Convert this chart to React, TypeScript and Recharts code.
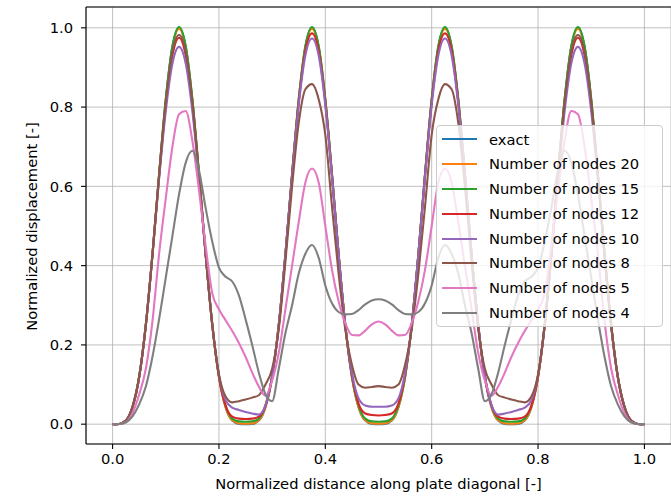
import React from 'react';
import { LineChart, Line, XAxis, YAxis, CartesianGrid } from 'recharts';

const T = [
  0, 0.0125, 0.025, 0.0375, 0.05, 0.0625, 0.075, 0.0875, 0.1, 0.1125,
  0.125, 0.1375, 0.15, 0.1625, 0.175, 0.1875, 0.2, 0.2125, 0.225, 0.2375,
  0.25, 0.2625, 0.275, 0.2875, 0.3, 0.3125, 0.325, 0.3375, 0.35, 0.3625,
  0.375, 0.3875, 0.4, 0.4125, 0.425, 0.4375, 0.45, 0.4625, 0.475, 0.4875,
  0.5, 0.5125, 0.525, 0.5375, 0.55, 0.5625, 0.575, 0.5875, 0.6, 0.6125,
  0.625, 0.6375, 0.65, 0.6625, 0.675, 0.6875, 0.7, 0.7125, 0.725, 0.7375,
  0.75, 0.7625, 0.775, 0.7875, 0.8, 0.8125, 0.825, 0.8375, 0.85, 0.8625,
  0.875, 0.8875, 0.9, 0.9125, 0.925, 0.9375, 0.95, 0.9625, 0.975, 0.9875, 1,
];

const EXACT = [
  0, .0006, .009, .043, .119, .25, .428, .63, .818, .952, 1, .952, .818, .63, .428, .25, .119, .043, .009, .0006, 0,
  .0006, .009, .043, .119, .25, .428, .63, .818, .952, 1, .952, .818, .63, .428, .25, .119, .043, .009, .0006, 0,
  .0006, .009, .043, .119, .25, .428, .63, .818, .952, 1, .952, .818, .63, .428, .25, .119, .043, .009, .0006, 0,
  .0006, .009, .043, .119, .25, .428, .63, .818, .952, 1, .952, .818, .63, .428, .25, .119, .043, .009, .0006, 0,
];

const N20 = [
  0, .0006, .009, .043, .119, .25, .428, .63, .817, .95, .997, .95, .817, .63, .428, .25, .119, .043, .01, .002, .001,
  .002, .01, .043, .119, .25, .428, .63, .817, .95, .997, .95, .817, .63, .428, .25, .119, .043, .01, .002, .001,
  .002, .01, .043, .119, .25, .428, .63, .817, .95, .997, .95, .817, .63, .428, .25, .119, .043, .01, .002, .001,
  .002, .01, .043, .119, .25, .428, .63, .817, .95, .997, .95, .817, .63, .428, .25, .119, .043, .009, .0006, 0,
];

const N15 = [
  0, .0006, .009, .045, .121, .252, .43, .632, .82, .954, 1.002, .954, .82, .632, .43, .252, .122, .047, .014, .007, .006,
  .007, .014, .047, .122, .252, .43, .632, .82, .954, 1.002, .954, .82, .632, .43, .252, .122, .047, .014, .007, .006,
  .007, .014, .047, .122, .252, .43, .632, .82, .954, 1.002, .954, .82, .632, .43, .252, .122, .047, .014, .007, .006,
  .007, .014, .047, .122, .252, .43, .632, .82, .954, 1.002, .954, .82, .632, .43, .252, .121, .045, .009, .0006, 0,
];

const N12 = [
  0, .0006, .009, .043, .119, .25, .428, .625, .805, .93, .975, .93, .805, .625, .428, .25, .12, .047, .019, .014, .013,
  .014, .019, .047, .12, .25, .428, .628, .812, .942, .986, .942, .812, .628, .428, .25, .125, .052, .027, .023, .022,
  .023, .027, .052, .125, .25, .428, .628, .812, .942, .986, .942, .812, .628, .428, .25, .12, .047, .019, .014, .013,
  .014, .019, .047, .12, .25, .428, .625, .805, .93, .975, .93, .805, .625, .428, .25, .119, .043, .009, .0006, 0,
];

const N10 = [
  0, .0006, .009, .043, .119, .25, .428, .62, .79, .91, .952, .91, .79, .62, .428, .25, .125, .06, .042, .036, .031,
  .027, .024, .048, .122, .25, .428, .625, .805, .93, .973, .93, .805, .625, .428, .25, .13, .065, .047, .044, .044,
  .044, .047, .065, .13, .25, .428, .625, .805, .93, .973, .93, .805, .625, .428, .25, .122, .048, .024, .027, .031,
  .036, .042, .06, .125, .25, .428, .62, .79, .91, .952, .91, .79, .62, .428, .25, .119, .043, .009, .0006, 0,
];

const N8 = [
  0, .0006, .009, .043, .119, .25, .428, .628, .812, .94, .982, .94, .812, .628, .428, .25, .125, .07, .055, .058, .062,
  .067, .073, .10, .14, .24, .41, .60, .76, .845, .858, .82, .73, .55, .38, .24, .15, .10, .092, .094, .096,
  .094, .092, .10, .15, .24, .38, .55, .73, .82, .858, .845, .76, .60, .41, .24, .14, .10, .073, .067, .062,
  .058, .055, .07, .125, .25, .428, .628, .812, .94, .982, .94, .812, .628, .428, .25, .119, .043, .009, .0006, 0,
];

const N5 = [
  0, .0005, .005, .028, .075, .14, .26, .43, .57, .70, .782, .79, .715, .59, .45, .33, .29, .262, .235, .205, .17,
  .13, .095, .072, .11, .18, .29, .40, .51, .61, .645, .61, .50, .39, .31, .255, .225, .224, .236, .252, .259,
  .252, .236, .224, .225, .255, .31, .39, .50, .61, .645, .61, .51, .40, .29, .18, .11, .072, .095, .13, .17,
  .205, .235, .262, .29, .33, .45, .59, .715, .79, .782, .70, .57, .43, .26, .14, .075, .028, .005, .0005, 0,
];

const N4 = [
  0, .0005, .005, .02, .05, .095, .17, .265, .37, .475, .58, .66, .69, .64, .545, .46, .395, .372, .36, .325, .265,
  .20, .13, .075, .058, .14, .23, .30, .38, .43, .452, .42, .35, .305, .283, .277, .278, .288, .302, .312, .315,
  .312, .302, .288, .278, .277, .283, .305, .35, .42, .452, .43, .38, .30, .23, .14, .058, .075, .13, .20, .265,
  .325, .36, .372, .395, .46, .545, .64, .69, .66, .58, .475, .37, .265, .17, .095, .05, .02, .005, .0005, 0,
];

const X_TICKS = [0, 0.2, 0.4, 0.6, 0.8, 1.0];
const Y_TICKS = [0, 0.2, 0.4, 0.6, 0.8, 1.0];

const SERIES = [
  { key: 'exact', name: 'exact', color: '#1f77b4', values: EXACT },
  { key: 'n20', name: 'Number of nodes 20', color: '#ff7f0e', values: N20 },
  { key: 'n15', name: 'Number of nodes 15', color: '#2ca02c', values: N15 },
  { key: 'n12', name: 'Number of nodes 12', color: '#d62728', values: N12 },
  { key: 'n10', name: 'Number of nodes 10', color: '#9467bd', values: N10 },
  { key: 'n8', name: 'Number of nodes 8', color: '#8c564b', values: N8 },
  { key: 'n5', name: 'Number of nodes 5', color: '#e377c2', values: N5 },
  { key: 'n4', name: 'Number of nodes 4', color: '#7f7f7f', values: N4 },
];

const FONT = '"DejaVu Sans", sans-serif';
const FS = 14.7;

export default function App() {
  const data = T.map((t, i) => {
    const row: any = { t };
    SERIES.forEach((s) => {
      row[s.key] = s.values[i];
    });
    return row;
  });

  const tickStyle = { fill: '#000', fontSize: FS, fontFamily: FONT };

  return (
    <div
      style={{
        position: 'absolute',
        left: 0,
        top: 0,
        width: 671,
        height: 501,
        background: '#fff',
        fontFamily: FONT,
        overflow: 'hidden',
      }}
    >
      <LineChart width={671} height={501} data={data} margin={{ top: 0, right: 0, bottom: 0, left: 0 }}>
        <CartesianGrid stroke="#b0b0b0" strokeWidth={0.8} />
        <XAxis
          xAxisId="top"
          orientation="top"
          type="number"
          dataKey="t"
          domain={[-0.05, 1.05]}
          height={7}
          tick={false}
          tickLine={false}
          axisLine={{ stroke: '#000', strokeWidth: 1.1 }}
          allowDataOverflow
        />
        <XAxis
          type="number"
          dataKey="t"
          domain={[-0.05, 1.05]}
          ticks={X_TICKS}
          tickFormatter={(v: number) => v.toFixed(1)}
          height={57}
          tick={tickStyle}
          tickSize={5}
          tickMargin={5}
          tickLine={{ stroke: '#000', strokeWidth: 1.1 }}
          axisLine={{ stroke: '#000', strokeWidth: 1.1 }}
          allowDataOverflow
          interval={0}
        />
        <YAxis
          type="number"
          domain={[-0.05, 1.0525]}
          ticks={Y_TICKS}
          tickFormatter={(v: number) => v.toFixed(1)}
          width={86}
          tick={tickStyle}
          tickSize={5}
          tickMargin={8}
          tickLine={{ stroke: '#000', strokeWidth: 1.1 }}
          axisLine={{ stroke: '#000', strokeWidth: 1.1 }}
          allowDataOverflow
          interval={0}
        />
        {SERIES.map((s) => (
          <Line
            key={s.key}
            dataKey={s.key}
            name={s.name}
            type="monotone"
            stroke={s.color}
            strokeWidth={2.1}
            dot={false}
            activeDot={false}
            isAnimationActive={false}
          />
        ))}
      </LineChart>

      <div
        style={{
          position: 'absolute',
          left: 86,
          width: 585,
          top: 475,
          textAlign: 'center',
          fontSize: FS,
          lineHeight: '17px',
          color: '#000',
          whiteSpace: 'nowrap',
        }}
      >
        Normalized distance along plate diagonal [-]
      </div>

      <div
        style={{
          position: 'absolute',
          left: 31 - 200,
          top: 226 - 8.5,
          width: 400,
          height: 17,
          textAlign: 'center',
          fontSize: FS,
          lineHeight: '17px',
          color: '#000',
          whiteSpace: 'nowrap',
          transform: 'rotate(-90deg)',
        }}
      >
        Normalized displacement [-]
      </div>

      <div
        style={{
          position: 'absolute',
          left: 436,
          top: 125,
          width: 227,
          height: 202,
          boxSizing: 'border-box',
          border: '1px solid #cccccc',
          borderRadius: 4,
          background: 'rgba(255,255,255,0.8)',
          paddingTop: 1,
        }}
      >
        {SERIES.map((s) => (
          <div key={s.key} style={{ position: 'relative', height: 24.8 }}>
            <div
              style={{
                position: 'absolute',
                left: 5,
                top: 11.4,
                width: 35,
                height: 2,
                background: s.color,
              }}
            />
            <div
              style={{
                position: 'absolute',
                left: 52,
                top: 3.5,
                fontSize: FS,
                lineHeight: '17px',
                color: '#000',
                whiteSpace: 'nowrap',
              }}
            >
              {s.name}
            </div>
          </div>
        ))}
      </div>
    </div>
  );
}
